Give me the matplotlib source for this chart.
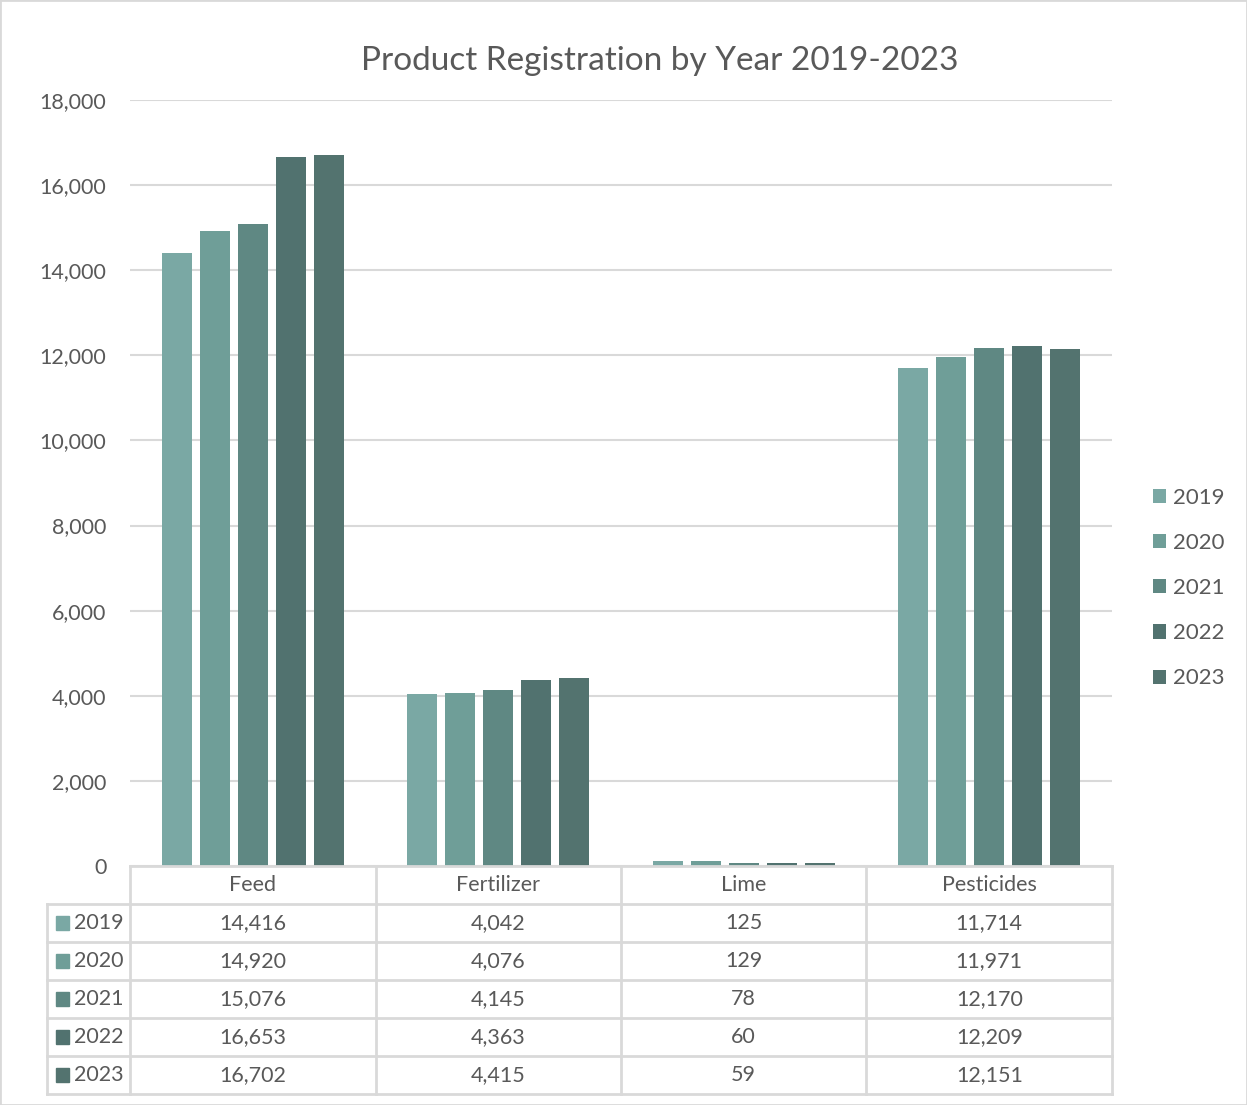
import matplotlib
matplotlib.use("Agg")
import matplotlib.pyplot as plt
from matplotlib.patches import Rectangle
import numpy as np

plt.rcParams["font.family"] = ["Lato", "DejaVu Sans"]

categories = ["Feed", "Fertilizer", "Lime", "Pesticides"]
years = ["2019", "2020", "2021", "2022", "2023"]
v2019 = [14416, 4042, 125, 11714]
v2020 = [14920, 4076, 129, 11971]
v2021 = [15076, 4145, 78, 12170]
v2022 = [16653, 4363, 60, 12209]
v2023 = [16702, 4415, 59, 12151]
series = [v2019, v2020, v2021, v2022, v2023]
colors = ["#7AA8A4", "#6F9E98", "#5F8883", "#51726F", "#53736F"]
yticks = [0, 2000, 4000, 6000, 8000, 10000, 12000, 14000, 16000, 18000]

W, H = 1247, 1105
TXT = "#595959"
GRID = "#D9D9D9"

fig = plt.figure(figsize=(W / 100, H / 100), dpi=100)
fig.patches.append(Rectangle((0, 0), 1, 1, transform=fig.transFigure,
                             fill=False, edgecolor=GRID, lw=2))


def box(l, t, r, b):
    return [l / W, 1 - b / H, (r - l) / W, (b - t) / H]


ax = fig.add_axes(box(130, 100, 1112, 866))
x = np.arange(len(categories))
step, width = 0.155, 0.123
for i, (vals, c, yr) in enumerate(zip(series, colors, years)):
    ax.bar(x + (i - 2) * step, vals, width, color=c, label=yr, zorder=3)
ax.set_xlim(-0.5, len(categories) - 0.5)
ax.set_ylim(0, 18000)
ax.set_yticks(yticks)
ax.set_yticklabels([f"{v:,}" for v in yticks], color=TXT, fontsize=15.5)
ax.tick_params(axis="y", length=0, pad=17)
ax.set_xticks([])
ax.grid(axis="y", color=GRID, lw=1.5, zorder=0)
for s in ax.spines.values():
    s.set_visible(False)

fig.text(660 / W, 1 - 61 / H, "Product Registration by Year 2019-2023",
         ha="center", va="center", fontsize=24, color=TXT)

# legend on the right
handles, labels = ax.get_legend_handles_labels()
fig.legend(handles, labels, loc="upper left", bbox_to_anchor=(1153 / W, 1 - 488 / H),
           frameon=False, fontsize=16, labelcolor=TXT, handlelength=0.6,
           handleheight=0.6, handletextpad=0.3, labelspacing=1.13,
           borderaxespad=0, borderpad=0)

# data table under the plot
left_u = -0.5 - 83 / 245.5
tax = fig.add_axes(box(47, 866, 1112, 1094))
tax.set_xlim(left_u, len(categories) - 0.5)
tax.set_ylim(6, 0)
tax.axis("off")
lk = dict(color=GRID, lw=2, clip_on=False)
tax.plot([-0.5, 3.5], [0, 0], **lk)
for r in range(1, 7):
    tax.plot([left_u, 3.5], [r, r], **lk)
for c in np.arange(-0.5, 4.0, 1.0):
    tax.plot([c, c], [0, 6], **lk)
tax.plot([left_u, left_u], [1, 6], **lk)

for j, cat in enumerate(categories):
    tax.text(j, 0.5, cat, ha="center", va="center", fontsize=15.5, color=TXT)
    for i, vals in enumerate(series):
        tax.text(j, i + 1.5, f"{vals[j]:,}", ha="center", va="center",
                 fontsize=15.5, color=TXT)
for i, (yr, c) in enumerate(zip(years, colors)):
    tax.add_patch(Rectangle((left_u + 0.035, i + 1.5 - 0.18), 0.055, 0.36,
                            color=c, clip_on=False))
    tax.text(left_u + 0.11, i + 1.5, yr, ha="left", va="center",
             fontsize=15.5, color=TXT)

fig.savefig("out.png", dpi=100)
